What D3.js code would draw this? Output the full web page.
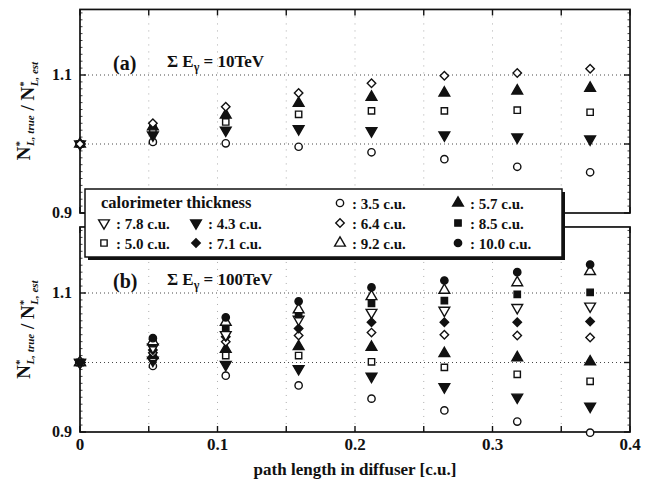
<!DOCTYPE html>
<html>
<head>
<meta charset="utf-8">
<script src="https://cdn.jsdelivr.net/npm/d3@7"></script>
<style>
  body { margin: 0; background: #fff; }
  text { font-family: "Liberation Serif", "DejaVu Serif", serif; font-weight: bold; fill: #111; }
</style>
</head>
<body>
<div id="chart"></div>
<script>
// path length in diffuser [c.u.]
const pathLength = [0, 0.053, 0.106, 0.159, 0.212, 0.265, 0.318, 0.371];
const xTicks = [0, 0.1, 0.2, 0.3, 0.4];

// (a) sum E = 10 TeV
const a_35 = [1.0, 1.003, 1.001, 0.996, 0.988, 0.978, 0.967, 0.959];
const a_43 = [1.0, 1.013, 1.020, 1.022, 1.019, 1.013, 1.010, 1.007];
const a_50 = [1.0, 1.022, 1.032, 1.043, 1.048, 1.048, 1.049, 1.046];
const a_57 = [1.0, 1.025, 1.042, 1.059, 1.068, 1.074, 1.077, 1.081];
const a_64 = [1.0, 1.030, 1.054, 1.074, 1.088, 1.099, 1.103, 1.109];

// (b) sum E = 100 TeV
const b_35 = [1.0, 0.995, 0.981, 0.967, 0.948, 0.931, 0.915, 0.899];
const b_43 = [1.0, 1.003, 0.997, 0.991, 0.980, 0.965, 0.950, 0.937];
const b_50 = [1.0, 1.007, 1.010, 1.010, 1.001, 0.993, 0.983, 0.973];
const b_57 = [1.0, 1.010, 1.019, 1.023, 1.022, 1.013, 1.007, 1.001];
const b_64 = [1.0, 1.014, 1.030, 1.039, 1.043, 1.040, 1.039, 1.036];
const b_71 = [1.0, 1.018, 1.037, 1.049, 1.058, 1.058, 1.058, 1.059];
const b_78 = [1.0, 1.022, 1.040, 1.062, 1.072, 1.075, 1.079, 1.081];
const b_85 = [1.0, 1.027, 1.050, 1.069, 1.085, 1.089, 1.098, 1.101];
const b_92 = [1.0, 1.030, 1.058, 1.076, 1.095, 1.104, 1.115, 1.131];
const b_100 = [1.0, 1.035, 1.065, 1.088, 1.108, 1.118, 1.130, 1.141];

// marker per thickness: shape, filled
const markers = {
  "3.5": ["circle", false], "4.3": ["down", true], "5.0": ["square", false],
  "5.7": ["up", true], "6.4": ["diamond", false], "7.1": ["diamond", true],
  "7.8": ["down", false], "8.5": ["square", true], "9.2": ["up", false],
  "10.0": ["circle", true]
};

const panelA = [["3.5", a_35], ["4.3", a_43], ["5.0", a_50], ["5.7", a_57], ["6.4", a_64]];
const panelB = [["3.5", b_35], ["4.3", b_43], ["5.0", b_50], ["5.7", b_57], ["6.4", b_64],
                ["7.1", b_71], ["7.8", b_78], ["8.5", b_85], ["9.2", b_92], ["10.0", b_100]];

// legend layout rows (thickness keys), first cells of row 0 hold the title
const legendRows = [[null, null, "3.5", "5.7"], ["7.8", "4.3", "6.4", "8.5"], ["5.0", "7.1", "9.2", "10.0"]];

const width = 647, height = 481;
const svg = d3.select("#chart").append("svg")
    .attr("width", width).attr("height", height);

const x = d3.scaleLinear().domain([0, 0.4]).range([80, 630]);

function symbolPath(shape) {
    if (shape === "circle") return d3.symbol(d3.symbolCircle, 42)();
    if (shape === "square") return d3.symbol(d3.symbolSquare, 40)();
    if (shape === "diamond") return d3.symbol(d3.symbolSquare, 36)();
    return d3.symbol(d3.symbolTriangle, 50)();
}
function symbolRotate(shape) {
    if (shape === "down") return 180;
    if (shape === "diamond") return 45;
    return 0;
}

function drawMarker(g, key, px, py) {
    const m = markers[key];
    g.append("path")
        .attr("d", symbolPath(m[0]))
        .attr("transform", "translate(" + px + "," + py + ") rotate(" + symbolRotate(m[0]) + ")")
        .attr("fill", m[1] ? "#111" : "#fff")
        .attr("stroke", "#111")
        .attr("stroke-width", 1.4);
}

function drawPanel(y, top, bottom, series, tag, energy) {
    const g = svg.append("g");
    const yTop = y(top), yBot = y(bottom);

    // dotted grid
    [0.05, 0.1, 0.15, 0.2, 0.25, 0.3, 0.35].forEach(v => {
        g.append("line").attr("x1", x(v)).attr("x2", x(v)).attr("y1", yTop).attr("y2", yBot)
            .attr("stroke", "#999").attr("stroke-width", 0.8).attr("stroke-dasharray", "1,6");
    });
    [1.0, 1.1].forEach(v => {
        g.append("line").attr("x1", x(0)).attr("x2", x(0.4)).attr("y1", y(v)).attr("y2", y(v))
            .attr("stroke", "#333").attr("stroke-width", 0.9).attr("stroke-dasharray", "1,3");
    });

    // frame
    g.append("rect").attr("x", x(0)).attr("y", yTop)
        .attr("width", x(0.4) - x(0)).attr("height", yBot - yTop)
        .attr("fill", "none").attr("stroke", "#111").attr("stroke-width", 1.7);

    // x ticks on top and bottom edges
    d3.range(0, 0.401, 0.05).forEach(v => {
        g.append("line").attr("x1", x(v)).attr("x2", x(v)).attr("y1", yBot).attr("y2", yBot - 6)
            .attr("stroke", "#111").attr("stroke-width", 1.4);
        g.append("line").attr("x1", x(v)).attr("x2", x(v)).attr("y1", yTop).attr("y2", yTop + 6)
            .attr("stroke", "#111").attr("stroke-width", 1.4);
    });
    // y ticks, minor and major
    d3.range(Math.ceil(bottom * 100), Math.floor(top * 100) + 1).forEach(k => {
        const v = k / 100;
        const major = k % 10 === 0;
        const len = major ? 6 : 2.5;
        g.append("line").attr("x1", x(0)).attr("x2", x(0) + len).attr("y1", y(v)).attr("y2", y(v))
            .attr("stroke", "#111").attr("stroke-width", major ? 1.4 : 0.8);
        g.append("line").attr("x1", x(0.4)).attr("x2", x(0.4) - len).attr("y1", y(v)).attr("y2", y(v))
            .attr("stroke", "#111").attr("stroke-width", major ? 1.4 : 0.8);
    });

    // y tick labels
    [0.9, 1.1].forEach(v => {
        g.append("text").attr("x", 72).attr("y", y(v) + 5)
            .attr("text-anchor", "end").attr("font-size", 16).text(v.toFixed(1));
    });

    // panel labels
    g.append("text").attr("x", 113).attr("y", y(1.1) - 5).attr("font-size", 20).text(tag);
    const t = g.append("text").attr("x", 167).attr("y", y(1.1) - 8).attr("font-size", 17);
    t.append("tspan").text("\u03A3 E");
    t.append("tspan").attr("font-size", 12).attr("dy", 4).text("\u03B3");
    t.append("tspan").attr("dy", -4).text(" = " + energy);

    // y axis title
    const cy = y(1.0) - 33;
    const yt = g.append("text").attr("transform", "translate(30," + cy + ") rotate(-90)")
        .attr("text-anchor", "middle").attr("font-size", 19);
    ["true", "est"].forEach((s, i) => {
        if (i === 1) yt.append("tspan").text(" / ");
        yt.append("tspan").text("N");
        yt.append("tspan").attr("font-size", 11).attr("dy", -7).text("*");
        yt.append("tspan").attr("font-size", 11).attr("font-style", "italic").attr("dx", -5).attr("dy", 11).text("L, " + s);
        yt.append("tspan").attr("dy", -4).text("");
    });

    // markers
    series.forEach(s => {
        s[1].forEach((v, i) => drawMarker(g, s[0], x(pathLength[i]), y(v)));
    });
}

const yA = d3.scaleLinear().domain([0.9, 1.1]).range([213, 75]);
const yB = d3.scaleLinear().domain([0.9, 1.1]).range([432, 293]);

drawPanel(yA, 1.195, 0.9, panelA, "(a)", "10TeV");
drawPanel(yB, 1.195, 0.9, panelB, "(b)", "100TeV");

// x axis labels
xTicks.forEach(v => {
    svg.append("text").attr("x", x(v)).attr("y", 450).attr("text-anchor", "middle")
        .attr("font-size", 17).text(v === 0 ? "0" : v.toFixed(1));
});
svg.append("text").attr("x", 355).attr("y", 475).attr("text-anchor", "middle")
    .attr("font-size", 17).text("path length in diffuser [c.u.]");

// legend
const lg = svg.append("g");
lg.append("rect").attr("x", 88).attr("y", 192).attr("width", 477).attr("height", 68).attr("fill", "#111");
lg.append("rect").attr("x", 85).attr("y", 189).attr("width", 477).attr("height", 68)
    .attr("fill", "#fff").attr("stroke", "#111").attr("stroke-width", 1.5);
const colSym = [104, 196, 340, 458];
const rowY = [203, 223, 243];
lg.append("text").attr("x", 101).attr("y", rowY[0] + 5).attr("font-size", 16.5).text("calorimeter thickness");
legendRows.forEach((row, r) => {
    row.forEach((key, c) => {
        if (!key) return;
        drawMarker(lg, key, colSym[c], rowY[r]);
        lg.append("text").attr("x", colSym[c] + 12).attr("y", rowY[r] + 5.5)
            .attr("font-size", 15).text(": " + key + " c.u.");
    });
});
</script>
</body>
</html>
